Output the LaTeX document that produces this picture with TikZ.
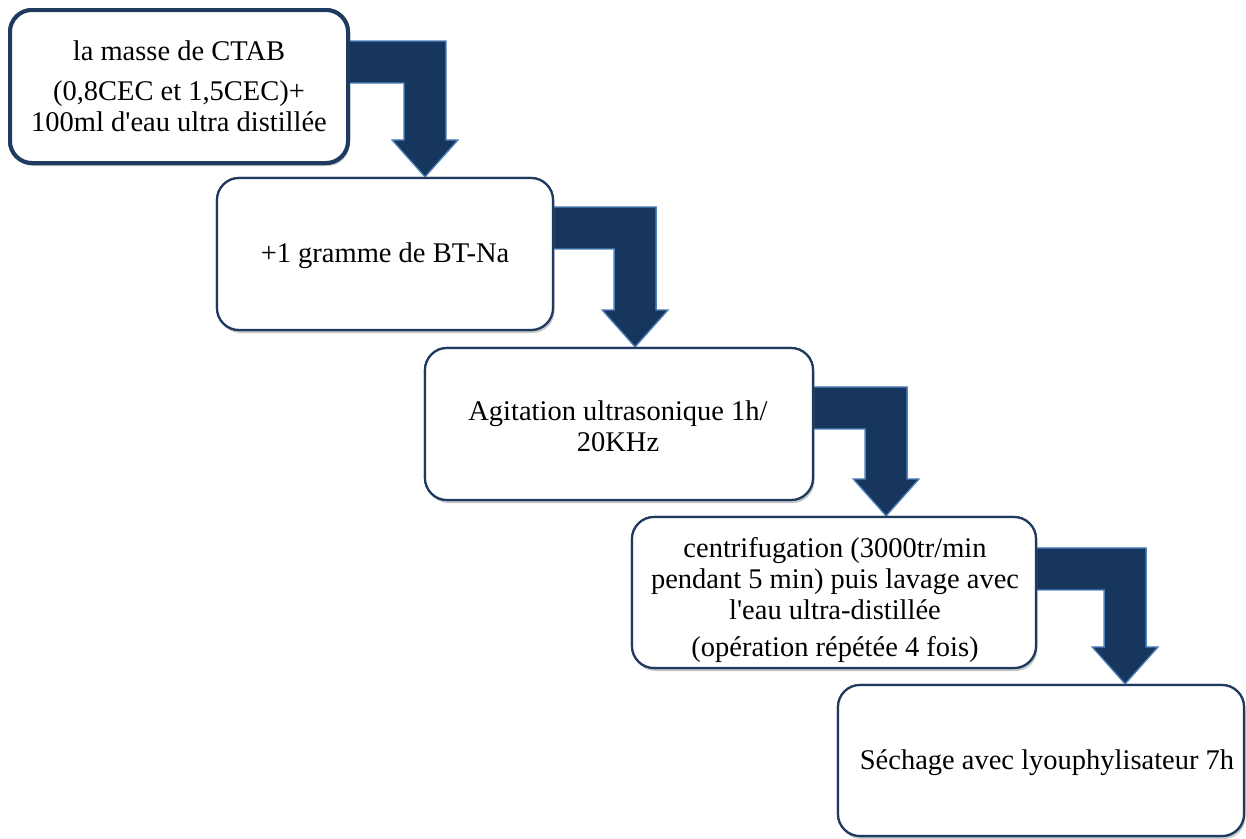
\documentclass[tikz,border=0pt]{standalone}
\usepackage{fontspec}
\setmainfont{Liberation Serif}[Ligatures=TeXOff]
\usetikzlibrary{calc,shadows}
\definecolor{boxline}{HTML}{1F3A5F}
\definecolor{arrowfill}{HTML}{17365D}
\definecolor{arrowedge}{HTML}{4F81BD}
\tikzset{
  stepbox/.style={draw=boxline, line width=2.2pt, fill=white, rounded corners=22pt,
    drop shadow={shadow xshift=1.5pt, shadow yshift=-3pt, opacity=0.25}},
  steptext/.style={align=center, inner sep=0pt, font=\fontsize{28.5}{31}\selectfont},
  arrowshape/.style={fill=arrowfill, draw=arrowedge, line width=1.3pt, line join=miter}
}
\newcommand\flowarrow[4]{%
  \path[arrowshape] let \p1=(#1.north east), \p2=(#2.north) in
   (\x1-3pt, \y1-#3) -- (\x1+#4+42pt, \y1-#3) -- (\x1+#4+42pt, \y2+37pt)
   -- (\x1+#4+54pt, \y2+37pt) -- (\x1+#4+21pt, \y2) -- (\x1+#4-12pt, \y2+37pt)
   -- (\x1+#4, \y2+37pt) -- (\x1+#4, \y1-#3-42pt) -- (\x1-3pt, \y1-#3-42pt) -- cycle;}
\begin{document}
\begin{tikzpicture}[x=1pt,y=-1pt]
\useasboundingbox (0,0) rectangle (1246,838);
% boxes
\node[stepbox, line width=4pt, minimum width=338pt, minimum height=153pt] (b1) at (179,86.5) {};
\node[stepbox, minimum width=336pt, minimum height=152pt] (b2) at (385,254) {};
\node[stepbox, minimum width=388pt, minimum height=152pt] (b3) at (619,424) {};
\node[stepbox, minimum width=404pt, minimum height=151pt] (b4) at (834,592.5) {};
\node[stepbox, minimum width=406pt, minimum height=151pt] (b5) at (1041,760.5) {};
% arrows
\flowarrow{b1}{b2}{33pt}{54pt}
\flowarrow{b2}{b3}{30pt}{60pt}
\flowarrow{b3}{b4}{40pt}{51pt}
\flowarrow{b4}{b5}{32pt}{67pt}
% redraw boxes on top of arrows
\node[stepbox, line width=4pt, minimum width=338pt, minimum height=153pt] at (179,86.5) {};
\node[stepbox, minimum width=336pt, minimum height=152pt] at (385,254) {};
\node[stepbox, minimum width=388pt, minimum height=152pt] at (619,424) {};
\node[stepbox, minimum width=404pt, minimum height=151pt] at (834,592.5) {};
\node[stepbox, minimum width=406pt, minimum height=151pt] at (1041,760.5) {};
% texts
\node[steptext] (t1) at (179,86) {la masse de CTAB\\[9pt](0,8CEC et 1,5CEC)+\\100ml d'eau ultra distillée};
\node[steptext] (t2) at (385,256) {+1 gramme de BT-Na};
\node[steptext] (t3) at (618,426) {Agitation ultrasonique 1h/\\20KHz};
\node[steptext] (t4) at (835,600) {centrifugation (3000tr/min\\pendant 5 min) puis lavage avec\\l'eau ultra-distillée\\[6pt](opération répétée 4 fois)};
\node[steptext] (t5) at (1047,763) {Séchage avec lyouphylisateur 7h};
\end{tikzpicture}
\end{document}
